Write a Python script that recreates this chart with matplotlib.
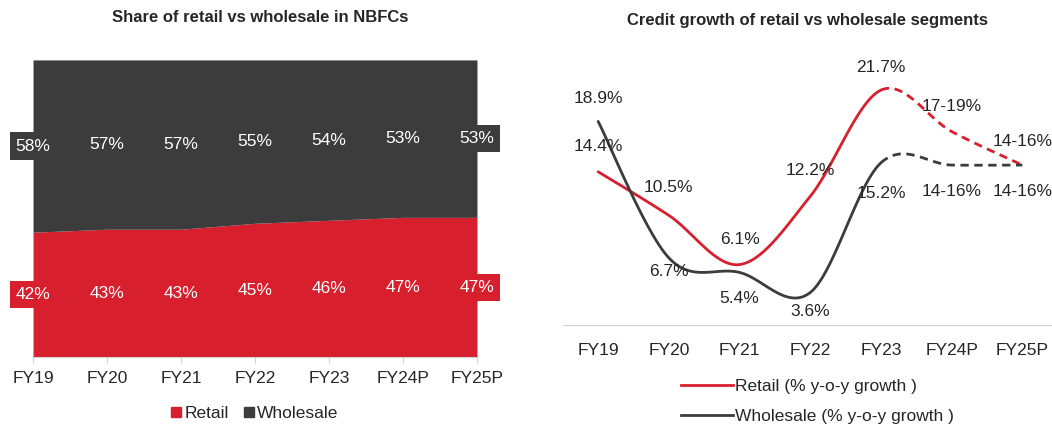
import numpy as np
import matplotlib.pyplot as plt
from matplotlib.patches import Patch
from matplotlib.lines import Line2D

plt.rcParams['font.family'] = ['Liberation Sans', 'DejaVu Sans']

# data
years = ["FY19", "FY20", "FY21", "FY22", "FY23", "FY24P", "FY25P"]
retail_share = [42, 43, 43, 45, 46, 47, 47]
wholesale_share = [58, 57, 57, 55, 54, 53, 53]

retail_growth = [14.4, 10.5, 6.1, 12.2, 21.7, 18.0, 15.0]
wholesale_growth = [18.9, 6.7, 5.4, 3.6, 15.2, 15.0, 15.0]
retail_labels = ["14.4%", "10.5%", "6.1%", "12.2%", "21.7%", "17-19%", "14-16%"]
wholesale_labels = ["18.9%", "6.7%", "5.4%", "3.6%", "15.2%", "14-16%", "14-16%"]

RED = "#d71f2e"
DARK = "#3c3c3c"
TXT = "#262626"
FS = 12.5


def smooth(xs, ys, n=30):
    # catmull-rom style bezier smoothing, like spreadsheet "smoothed line"
    xs = np.asarray(xs, float)
    ys = np.asarray(ys, float)
    px, py = [], []
    for i in range(len(xs) - 1):
        i0 = max(i - 1, 0)
        i3 = min(i + 2, len(xs) - 1)
        p0 = np.array([xs[i], ys[i]])
        p1 = np.array([xs[i + 1], ys[i + 1]])
        c1 = p0 + (np.array([xs[i + 1], ys[i + 1]]) - np.array([xs[i0], ys[i0]])) / 6
        c2 = p1 - (np.array([xs[i3], ys[i3]]) - np.array([xs[i], ys[i]])) / 6
        t = np.linspace(0, 1, n)
        b = ((1 - t) ** 3)[:, None] * p0 + (3 * (1 - t) ** 2 * t)[:, None] * c1 \
            + (3 * (1 - t) * t ** 2)[:, None] * c2 + (t ** 3)[:, None] * p1
        if i > 0:
            b = b[1:]
        px.extend(b[:, 0])
        py.extend(b[:, 1])
    return np.array(px), np.array(py), n


fig = plt.figure(figsize=(10.52, 4.28), dpi=100)

# ---- left: stacked area share
ax1 = fig.add_axes([0.0314, 0.166, 0.422, 0.694])
x = np.arange(len(years))
r = np.array(retail_share) / 100
w = np.array(wholesale_share) / 100
ax1.fill_between(x, 0, r, color=RED, linewidth=0)
ax1.fill_between(x, r, r + w, color=DARK, linewidth=0)
ax1.set_xlim(0, len(years) - 1)
ax1.set_ylim(0, 1)
ax1.set_yticks([])
for s in ["top", "right", "left"]:
    ax1.spines[s].set_visible(False)
ax1.spines["bottom"].set_color("#d0d0d0")
ax1.set_xticks(x)
ax1.set_xticklabels(years, fontsize=FS, color=TXT)
ax1.tick_params(axis="x", length=4, color="#d0d0d0", pad=6)

for i in x:
    box_r = box_w = None
    if i == 0 or i == len(years) - 1:
        box_r = dict(boxstyle="square,pad=0.35", fc=RED, ec="none")
        box_w = dict(boxstyle="square,pad=0.35", fc=DARK, ec="none")
    ax1.text(i, r[i] / 2, f"{retail_share[i]}%", ha="center", va="center",
             color="white", fontsize=FS, bbox=box_r, clip_on=False)
    ax1.text(i, r[i] + w[i] / 2, f"{wholesale_share[i]}%", ha="center", va="center",
             color="white", fontsize=FS, bbox=box_w, clip_on=False)

fig.text(0.247, 0.958, "Share of retail vs wholesale in NBFCs", ha="center", va="center",
         fontsize=12, fontweight="bold", color=TXT)
ax1.legend(handles=[Patch(color=RED, label="Retail"), Patch(color=DARK, label="Wholesale")],
           loc="center", bbox_to_anchor=(0.5, -0.19), ncol=2, frameon=False,
           handlelength=0.55, handleheight=0.55, handletextpad=0.2, columnspacing=0.9,
           fontsize=FS, labelcolor=TXT)

# ---- right: growth lines
ax2 = fig.add_axes([0.535, 0.2407, 0.467, 0.6193])
ax2.set_xlim(-0.5, 6.45)
ax2.set_ylim(0.7, 24.4)
ax2.set_yticks([])
for s in ["top", "right", "left"]:
    ax2.spines[s].set_visible(False)
ax2.spines["bottom"].set_color("#d0d0d0")
ax2.set_xticks(x)
ax2.set_xticklabels(years, fontsize=FS, color=TXT)
ax2.tick_params(axis="x", length=0, pad=13)

for vals, col in [(retail_growth, RED), (wholesale_growth, DARK)]:
    sx, sy, n = smooth(x, vals)
    cut = 4 * (n - 1) + 1  # FY23 point
    ax2.plot(sx[:cut], sy[:cut], color=col, lw=2, solid_capstyle="round")
    ax2.plot(sx[cut - 1:], sy[cut - 1:], color=col, lw=2, ls=(0, (3, 2)))

# label offsets in pixels (positive = above)
r_off = [25, 28, 25, 26, 23, 25, 24]
w_off = [23, -14, -26, -19, -31, -26, -26]
for i in x:
    ax2.annotate(retail_labels[i], (i, retail_growth[i]), xytext=(0, r_off[i] * 0.72),
                 textcoords="offset points", ha="center", va="center", fontsize=FS, color=TXT)
    ax2.annotate(wholesale_labels[i], (i, wholesale_growth[i]), xytext=(0, w_off[i] * 0.72),
                 textcoords="offset points", ha="center", va="center", fontsize=FS, color=TXT)

fig.text(0.768, 0.952, "Credit growth of retail vs wholesale segments", ha="center", va="center",
         fontsize=12, fontweight="bold", color=TXT)
ax2.legend(handles=[Line2D([], [], color=RED, lw=2, label="Retail (% y-o-y growth )"),
                    Line2D([], [], color=DARK, lw=2, label="Wholesale (% y-o-y growth )")],
           loc="upper left", bbox_to_anchor=(0.215, -0.158), ncol=1, frameon=False,
           handlelength=3.0, handletextpad=0.15, labelspacing=0.85, fontsize=FS, labelcolor=TXT,
           borderpad=0.2)

fig.savefig("out.png", dpi=100)
